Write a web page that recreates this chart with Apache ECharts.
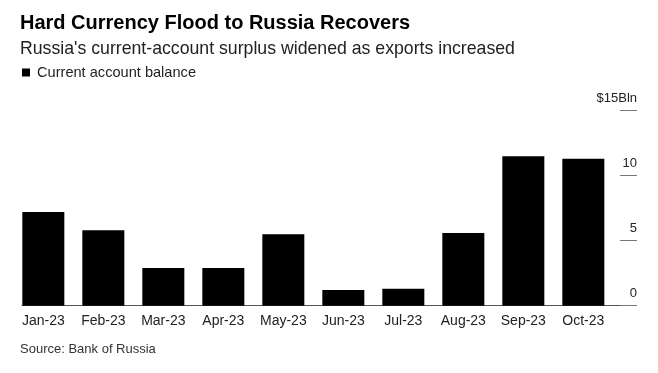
<!DOCTYPE html>
<html>
<head>
<meta charset="utf-8">
<script src="https://cdn.jsdelivr.net/npm/echarts@6/dist/echarts.min.js"></script>
<style>
html,body{margin:0;padding:0;background:#fff;}
#c{width:658px;height:373px;}
</style>
</head>
<body>
<div id="c"></div>
<script>
var categories = ['Jan-23','Feb-23','Mar-23','Apr-23','May-23','Jun-23','Jul-23','Aug-23','Sep-23','Oct-23'];
var balance = [7.2, 5.8, 2.9, 2.9, 5.5, 1.2, 1.3, 5.6, 11.5, 11.3];
var yTicks = [0, 5, 10, 15];
var yTickLabels = ['0', '5', '10', '$15Bln'];

var FONT = '"Liberation Sans", Arial, Helvetica, sans-serif';
var chart = echarts.init(document.getElementById('c'), null, {renderer: 'canvas'});
chart.setOption({
  animation: false,
  backgroundColor: '#fff',
  textStyle: {fontFamily: FONT},
  title: [
    {text: 'Hard Currency Flood to Russia Recovers', left: 15, top: 8,
     textStyle: {fontFamily: FONT, fontSize: 20, fontWeight: 'bold', color: '#000'}},
    {text: "Russia's current-account surplus widened as exports increased", left: 15, top: 35,
     textStyle: {fontFamily: FONT, fontSize: 17.7, fontWeight: 'normal', color: '#222'}},
    {text: 'Source: Bank of Russia', left: 15, top: 338,
     textStyle: {fontFamily: FONT, fontSize: 13, fontWeight: 'normal', color: '#333'}}
  ],
  legend: {
    left: 17, top: 60, icon: 'rect', itemWidth: 8, itemHeight: 8, itemGap: 6,
    textStyle: {fontFamily: FONT, fontSize: 14.6, color: '#222', padding: [0,0,0,2]},
    data: ['Current account balance']
  },
  grid: [
    {left: 13.33, right: 44.67, top: 110.7, bottom: 67.3},
    {left: 22, right: 23, top: 110.7, bottom: 67.3}
  ],
  xAxis: [
    {type: 'category', gridIndex: 0, data: categories,
     axisLine: {show: false}, axisTick: {show: false},
     axisLabel: {fontFamily: FONT, fontSize: 14, color: '#222', margin: 8, interval: 0}},
    {type: 'value', gridIndex: 1, min: 0, max: 1,
     axisLine: {show: true, onZero: false, lineStyle: {color: '#555', width: 1}},
     axisTick: {show: false}, axisLabel: {show: false}, splitLine: {show: false}}
  ],
  yAxis: [
    {type: 'value', gridIndex: 0, position: 'right', offset: 6.67, min: 0, max: 15, interval: 5,
     axisLine: {show: false},
     axisTick: {show: true, length: 17, inside: false, lineStyle: {color: '#777', width: 1}},
     splitLine: {show: false},
     axisLabel: {fontFamily: FONT, fontSize: 13, color: '#222', align: 'right', margin: 17,
       verticalAlign: 'bottom', lineHeight: 13, padding: [0,0,6,0],
       formatter: function (v) { var i = yTicks.indexOf(v); return i >= 0 ? yTickLabels[i] : ''; }}},
    {type: 'value', gridIndex: 1, show: false, min: 0, max: 1}
  ],
  series: [
    {name: 'Current account balance', type: 'bar', xAxisIndex: 0, yAxisIndex: 0,
     data: balance, barWidth: 42, itemStyle: {color: '#000'}}
  ]
});
</script>
</body>
</html>
